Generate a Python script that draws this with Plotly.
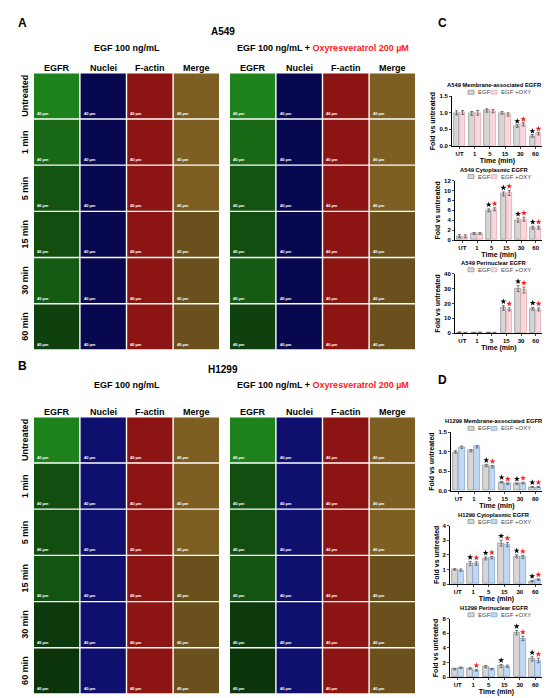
import plotly.graph_objects as go

W, H = 550, 698

# bar chart data
cats = ['UT', '1', '5', '15', '30', '60']

a549_mem_egf = [1.00, 0.98, 1.07, 1.00, 0.60, 0.30]
a549_mem_oxy = [1.01, 1.00, 1.05, 0.95, 0.65, 0.37]
a549_mem_egf_err = [0.06, 0.06, 0.05, 0.04, 0.04, 0.04]
a549_mem_oxy_err = [0.06, 0.07, 0.05, 0.05, 0.05, 0.04]
a549_mem_star_egf = [0, 0, 0, 0, 1, 1]
a549_mem_star_oxy = [0, 0, 0, 0, 1, 1]

a549_cyto_egf = [0.8, 1.3, 6.0, 9.3, 4.0, 2.5]
a549_cyto_oxy = [0.75, 1.3, 6.2, 9.5, 4.2, 2.5]
a549_cyto_egf_err = [0.3, 0.2, 0.3, 0.4, 0.4, 0.3]
a549_cyto_oxy_err = [0.3, 0.2, 0.3, 0.5, 0.4, 0.3]
a549_cyto_star_egf = [0, 0, 1, 1, 1, 1]
a549_cyto_star_oxy = [0, 0, 1, 1, 1, 1]

a549_peri_egf = [0.5, 0.2, 0.3, 17.0, 30.0, 16.5]
a549_peri_oxy = [0.2, 0.5, 0.3, 16.0, 29.0, 16.0]
a549_peri_egf_err = [0.3, 0.2, 0.2, 1.5, 2.0, 1.0]
a549_peri_oxy_err = [0.2, 0.3, 0.2, 1.0, 2.0, 1.0]
a549_peri_star_egf = [0, 0, 0, 1, 1, 1]
a549_peri_star_oxy = [0, 0, 0, 1, 1, 1]

h1299_mem_egf = [1.00, 1.03, 0.65, 0.22, 0.18, 0.10]
h1299_mem_oxy = [1.12, 1.13, 0.62, 0.18, 0.20, 0.10]
h1299_mem_egf_err = [0.03, 0.03, 0.03, 0.02, 0.02, 0.01]
h1299_mem_oxy_err = [0.03, 0.03, 0.03, 0.02, 0.02, 0.01]
h1299_mem_star_egf = [0, 0, 1, 1, 1, 1]
h1299_mem_star_oxy = [0, 0, 1, 1, 1, 1]

h1299_cyto_egf = [1.00, 1.40, 1.75, 2.80, 1.90, 0.20]
h1299_cyto_oxy = [0.95, 1.40, 1.80, 2.70, 1.85, 0.30]
h1299_cyto_egf_err = [0.05, 0.15, 0.10, 0.20, 0.10, 0.05]
h1299_cyto_oxy_err = [0.08, 0.12, 0.08, 0.15, 0.10, 0.05]
h1299_cyto_star_egf = [0, 1, 1, 1, 1, 1]
h1299_cyto_star_oxy = [0, 1, 1, 1, 1, 1]

h1299_peri_egf = [1.10, 1.20, 1.45, 1.55, 6.10, 2.50]
h1299_peri_oxy = [1.30, 0.95, 1.10, 1.50, 5.30, 2.30]
h1299_peri_egf_err = [0.10, 0.10, 0.15, 0.20, 0.30, 0.30]
h1299_peri_oxy_err = [0.10, 0.10, 0.10, 0.15, 0.30, 0.30]
h1299_peri_star_egf = [0, 0, 0, 1, 1, 1]
h1299_peri_star_oxy = [0, 1, 0, 0, 1, 1]

# microscopy grid labels
rows = ['Untreated', '1 min', '5 min', '15 min', '30 min', '60 min']
channels = ['EGFR', 'Nuclei', 'F-actin', 'Merge']


def px(x):
    return x / W


def py(y):
    return 1 - y / H


BOLD = 'Liberation Sans'
fig = go.Figure()
shapes = []
annots = []


def text(x, y, s, size, color='black', xanchor='center', yanchor='middle', angle=0, bold=True):
    annots.append(dict(x=px(x), y=py(y), xref='paper', yref='paper', text=s, showarrow=False,
                       xanchor=xanchor, yanchor=yanchor, textangle=angle,
                       font=dict(family=BOLD, size=size, color=color, weight='bold' if bold else 'normal')))


# ---- microscopy panels (A, B) drawn as tiles ----
def tile_color(ch, k, cell):
    base = {
        'EGFR': (30, 130, 28),
        'Nuclei': (8, 8, 80) if cell == 'A549' else (15, 15, 110),
        'F-actin': (140, 20, 18),
        'Merge': (125, 95, 35),
    }[ch]
    r, g, b = base
    return 'rgb(%d,%d,%d)' % (int(r * k), int(g * k), int(b * k))


egfr_level = {
    'A549': [1.0, 0.8, 0.65, 0.6, 0.7, 0.5],
    'H1299': [1.0, 0.6, 0.6, 0.65, 0.45, 0.4],
}

panels = [
    ('A', 'A549', 12, 21, 37, 57, 63),
    ('B', 'H1299', 358, 362, 377, 404, 410),
]
step = 46.6
tw = 45.2
for letter, cell, y_letter, y_cell, y_cond, y_ch, y0 in panels:
    text(8, y_letter, letter, 12, xanchor='left')
    text(215, y_cell, cell, 10)
    text(119, y_cond, 'EGF 100 ng/mL', 9)
    text(315, y_cond, 'EGF 100 ng/mL + <span style="color:#ff1a1a">Oxyresveratrol 200 \u00b5M</span>', 9)
    for side, x0 in enumerate([26, 222]):
        for j, ch in enumerate(channels):
            cx = x0 + j * step
            text(cx + tw / 2, y_ch, ch, 9)
            for i, r in enumerate(rows):
                ty = y0 + i * step
                k = egfr_level[cell][i] if ch == 'EGFR' else (0.85 if ch == 'Merge' and i > 2 else 1.0)
                shapes.append(dict(type='rect', xref='paper', yref='paper',
                                   x0=px(cx), x1=px(cx + tw), y0=py(ty + tw), y1=py(ty),
                                   fillcolor=tile_color(ch, k, cell), line=dict(width=0)))
                text(cx + 1, ty + tw - 0.5, '40 \u00b5m', 4, color='white', xanchor='left', yanchor='bottom')
    for i, r in enumerate(rows):
        text(17, y0 + i * step + tw / 2, r, 9, angle=-90)

# ---- bar charts (C, D) ----
text(428, 12, 'C', 12, xanchor='left')
text(428, 372, 'D', 12, xanchor='left')

charts = [
    ('A549 Membrane-associated EGFR', a549_mem_egf, a549_mem_oxy, a549_mem_egf_err, a549_mem_oxy_err,
     a549_mem_star_egf, a549_mem_star_oxy, 1.5, 0.5, '.1f', 444, 86, 136, 'A549'),
    ('A549 Cytoplasmic EGFR', a549_cyto_egf, a549_cyto_oxy, a549_cyto_egf_err, a549_cyto_oxy_err,
     a549_cyto_star_egf, a549_cyto_star_oxy, 12, 2, 'd', 447, 171, 231, 'A549'),
    ('A549 Perinuclear EGFR', a549_peri_egf, a549_peri_oxy, a549_peri_egf_err, a549_peri_oxy_err,
     a549_peri_star_egf, a549_peri_star_oxy, 40, 10, 'd', 447, 265, 325, 'A549'),
    ('H1299 Membrane-associated EGFR', h1299_mem_egf, h1299_mem_oxy, h1299_mem_egf_err, h1299_mem_oxy_err,
     h1299_mem_star_egf, h1299_mem_star_oxy, 1.5, 0.5, '.1f', 443, 425, 484, 'H1299'),
    ('H1299 Cytoplasmic EGFR', h1299_cyto_egf, h1299_cyto_oxy, h1299_cyto_egf_err, h1299_cyto_oxy_err,
     h1299_cyto_star_egf, h1299_cyto_star_oxy, 4, 1, 'd', 442, 519, 578, 'H1299'),
    ('H1299 Perinuclear EGFR', h1299_peri_egf, h1299_peri_oxy, h1299_peri_egf_err, h1299_peri_oxy_err,
     h1299_peri_star_egf, h1299_peri_star_oxy, 8, 2, 'd', 442, 613, 672, 'H1299'),
]

egf_fill, egf_line = '#d6d6d6', '#8a8a8a'
oxy_style = {'A549': ('#f8d8dc', '#e3a3ab'), 'H1299': ('#c3d8f0', '#7aa3d4')}
xpos = list(range(len(cats)))
layout_axes = {}
for n, (title, egf, oxy, egf_e, oxy_e, s_egf, s_oxy, ymax, dtick, fmt, xa, ytop, ybot, cell) in enumerate(charts, 1):
    xr = 'x' if n == 1 else 'x%d' % n
    yr = 'y' if n == 1 else 'y%d' % n
    of, ol = oxy_style[cell]
    for vals, errs, shift, fill, line in [(egf, egf_e, -0.2, egf_fill, egf_line), (oxy, oxy_e, 0.2, of, ol)]:
        fig.add_trace(go.Bar(x=[p + shift for p in xpos], y=vals, width=0.37, xaxis=xr, yaxis=yr,
                             marker=dict(color=fill, line=dict(color=line, width=0.7)),
                             error_y=dict(type='data', array=errs, color='#555555', thickness=0.8, width=1.5),
                             showlegend=False))
    for flags, vals, errs, shift, col in [(s_egf, egf, egf_e, -0.2, 'black'), (s_oxy, oxy, oxy_e, 0.2, '#ff1a1a')]:
        sx = [p + shift for p, f in zip(xpos, flags) if f]
        sy = [v + e + 0.07 * ymax for v, e, f in zip(vals, errs, flags) if f]
        fig.add_trace(go.Scatter(x=sx, y=sy, mode='markers', xaxis=xr, yaxis=yr, showlegend=False,
                                 marker=dict(symbol='star', size=4.5, color=col, line=dict(width=0))))
    fmt_ticks = [i * dtick for i in range(int(round(ymax / dtick)) + 1)]
    ticktext = [('%.1f' % t) if fmt == '.1f' else str(int(t)) for t in fmt_ticks]
    axfont = dict(family=BOLD, size=6, color='black', weight='bold')
    layout_axes['xaxis' if n == 1 else 'xaxis%d' % n] = dict(
        domain=[px(xa), px(535)], anchor=yr, range=[-0.5, 5.5], tickvals=xpos, ticktext=cats,
        showline=True, linecolor='black', linewidth=1, ticks='outside', ticklen=2, tickwidth=1,
        tickfont=axfont, showgrid=False, zeroline=False, fixedrange=True,
        title=dict(text='Time (min)', font=dict(family=BOLD, size=7, color='black', weight='bold'), standoff=1))
    layout_axes['yaxis' if n == 1 else 'yaxis%d' % n] = dict(
        domain=[py(ybot), py(ytop)], anchor=xr, range=[0, ymax], tickvals=fmt_ticks, ticktext=ticktext,
        showline=True, linecolor='black', linewidth=1, ticks='outside', ticklen=2, tickwidth=1,
        tickfont=axfont, showgrid=False, zeroline=False, fixedrange=True,
        title=dict(text='Fold vs untreated', font=dict(family=BOLD, size=7, color='black', weight='bold'), standoff=2))
    # title and legend
    text(486, ytop - 11, title, 5.8)
    ly = ytop - 4
    for bx, tx, lbl, fill, line in [(460, 468, 'EGF', egf_fill, egf_line), (483, 491, 'EGF +OXY', of, ol)]:
        shapes.append(dict(type='rect', xref='paper', yref='paper', x0=px(bx), x1=px(bx + 6),
                           y0=py(ly + 2), y1=py(ly - 2), fillcolor=fill, line=dict(color=line, width=0.7)))
        text(tx, ly, lbl, 6, color='#444444', xanchor='left', bold=False)

fig.update_layout(width=W, height=H, margin=dict(l=0, r=0, t=0, b=0), plot_bgcolor='white',
                  paper_bgcolor='white', shapes=shapes, annotations=annots, showlegend=False,
                  bargap=0, **layout_axes)
fig.write_html('out.html')
